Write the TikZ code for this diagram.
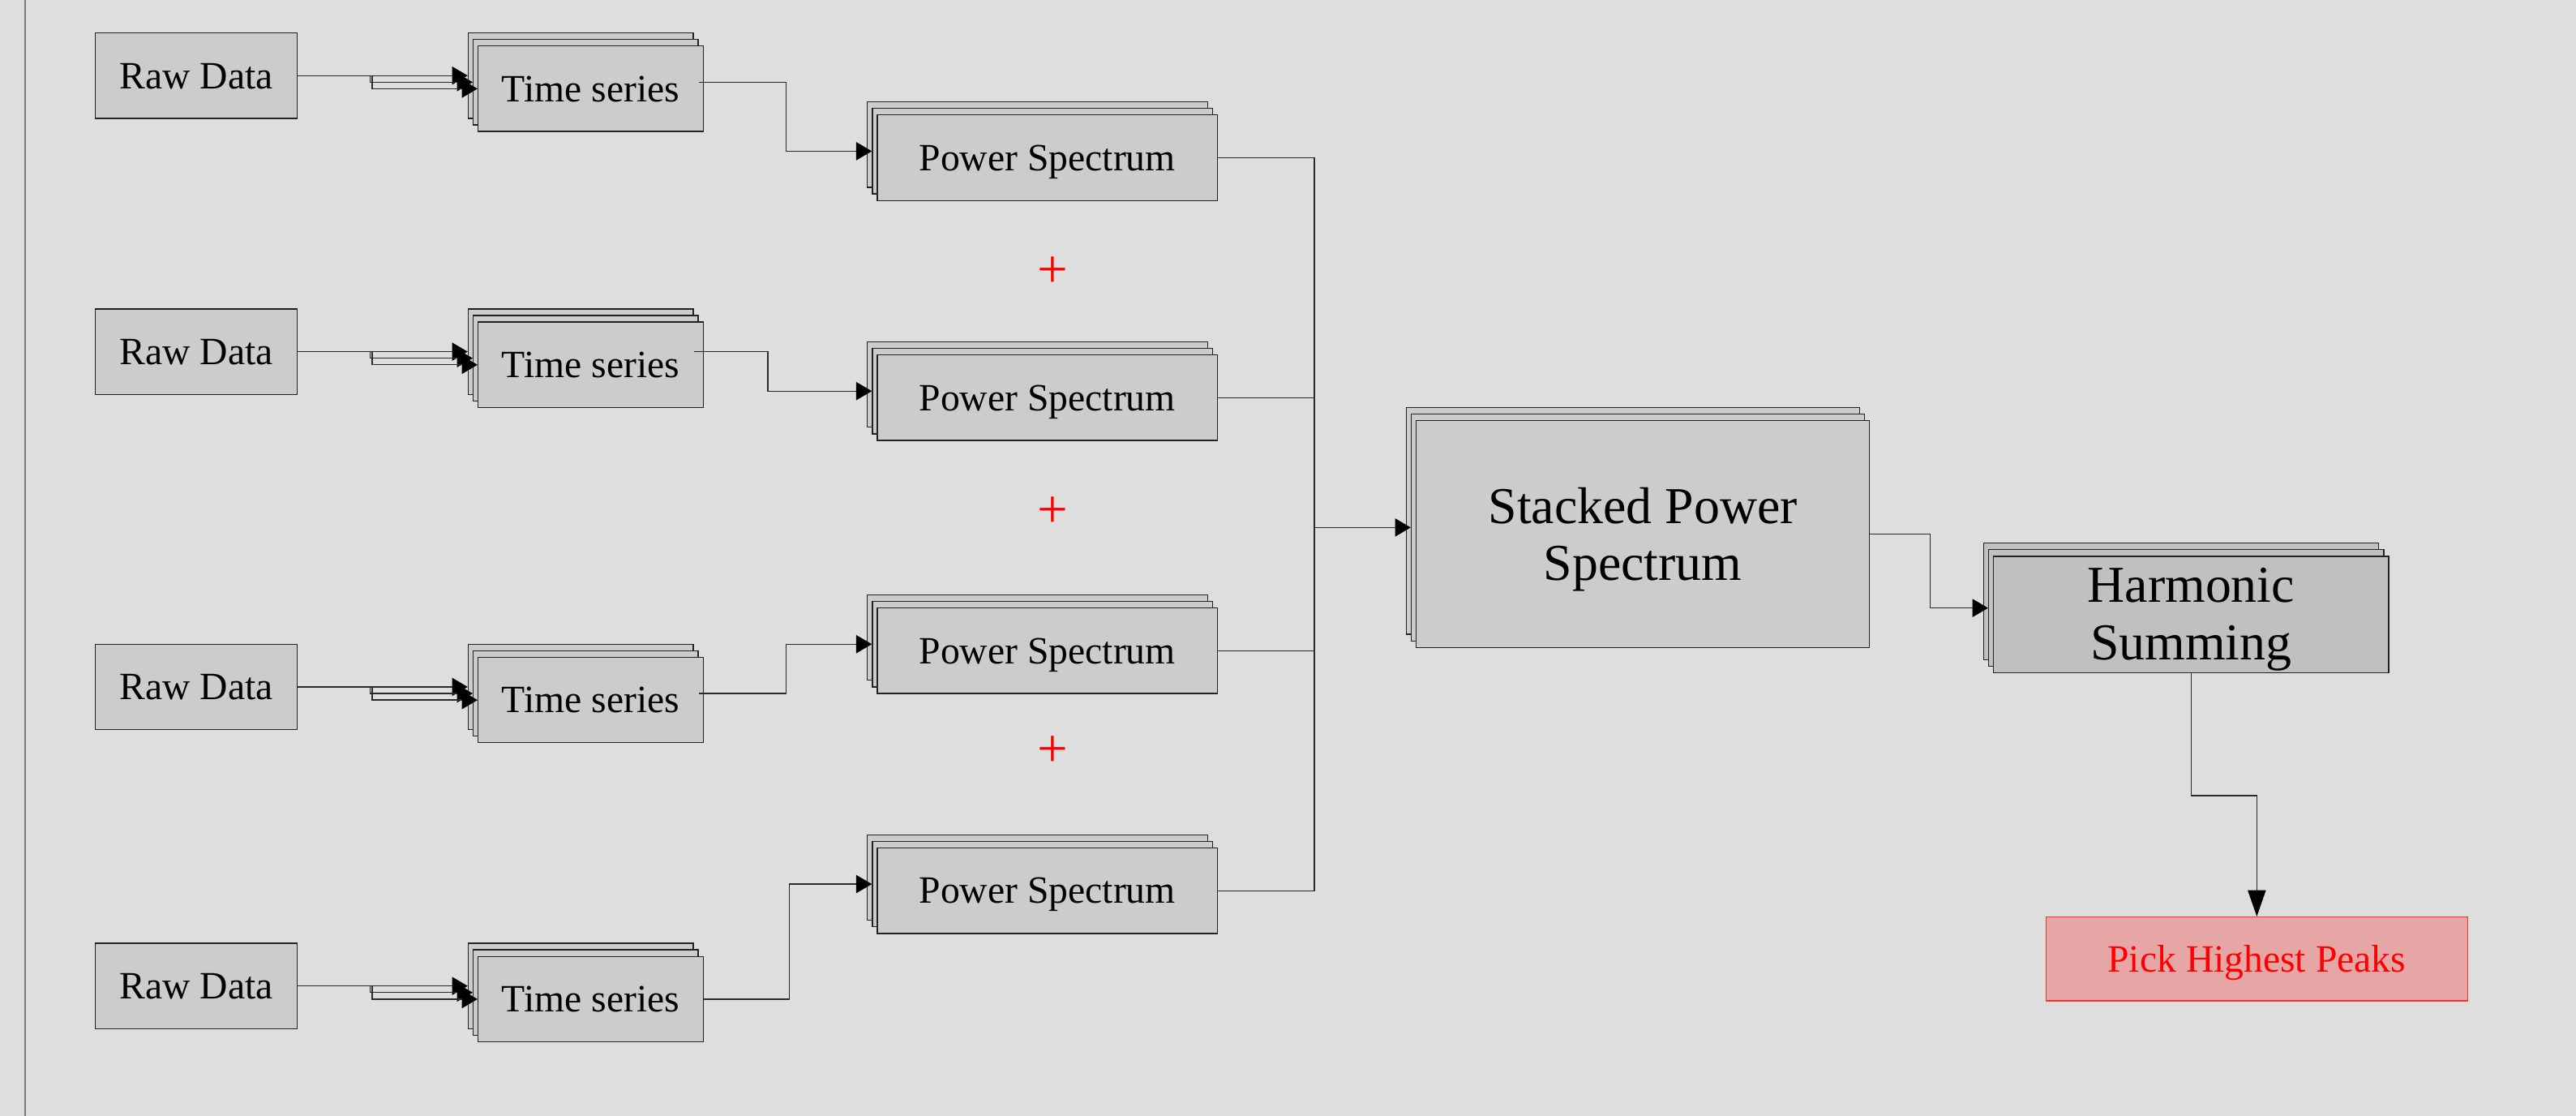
\documentclass[tikz,border=0pt]{standalone}
\usepackage{fontspec}
\setmainfont{Liberation Serif}
\usetikzlibrary{arrows.meta,calc}
\definecolor{bgc}{HTML}{DEDEDE}
\definecolor{boxc}{HTML}{CCCCCC}
\definecolor{hsc}{HTML}{C0C0C0}
\definecolor{phpfill}{HTML}{E6A6A6}
\definecolor{phpedge}{HTML}{FF3030}
\definecolor{edgec}{HTML}{222222}
\definecolor{linec}{HTML}{2A2A2A}
\definecolor{sidec}{HTML}{7A7A7A}
\tikzset{
  layer/.style={draw=edgec, line width=0.65pt, fill=boxc, inner sep=0pt},
  lbl/.style={font=\fontsize{23.5}{28}\selectfont, text height=15.6pt, text depth=0pt},
  big/.style={font=\fontsize{31.5}{35}\selectfont, inner sep=0pt},
  conn/.style={draw=linec, line width=0.65pt},
  arr/.style={conn, -{Triangle[length=9.5pt,width=11pt,fill=black,color=black]}},
  longarr/.style={conn, -{Triangle[length=16pt,width=11pt,fill=black,color=black]}},
  plus/.style={text=red, font=\fontsize{33}{36}\selectfont, inner sep=0pt},
}
\newcommand{\tribox}[7]{%
  \node[layer,#6,minimum width=#4pt,minimum height=#5pt] (#1a) at (#2,#3) {};
  \node[layer,#6,minimum width=#4pt,minimum height=#5pt] (#1b) at (#2+3,#3+4) {};
  \node[layer,#6,minimum width=#4pt,minimum height=#5pt] (#1) at (#2+6,#3+8) {#7};
}
\begin{document}
\begin{tikzpicture}[x=1pt,y=-1pt]
\fill[bgc] (0,0) rectangle (1568,679);
\useasboundingbox (0,0) rectangle (1568,679);
\draw[sidec, line width=1pt] (15.5,0) -- (15.5,679);

% Raw data boxes
\foreach \i/\yy in {1/46,2/214,3/418,4/600}{
  \node[layer,lbl,minimum width=123pt,minimum height=52pt] (rd\i) at (119.5,\yy) {Raw Data};
}
% Time series stacks
\tribox{ts1}{353.5}{46}{137}{52}{lbl}{Time series}
\tribox{ts2}{353.5}{214}{137}{52}{lbl}{Time series}
\tribox{ts3}{353.5}{418}{137}{52}{lbl}{Time series}
\tribox{ts4}{353.5}{600}{137}{52}{lbl}{Time series}
% Power spectrum stacks
\tribox{ps1}{631.5}{88}{207}{52}{lbl}{Power Spectrum}
\tribox{ps2}{631.5}{234}{207}{52}{lbl}{Power Spectrum}
\tribox{ps3}{631.5}{388}{207}{52}{lbl}{Power Spectrum}
\tribox{ps4}{631.5}{534}{207}{52}{lbl}{Power Spectrum}
% plus signs
\node[plus] (p1) at (641,165.5) {+};
\node[plus] (p2) at (641,311.5) {+};
\node[plus] (p3) at (641,457.5) {+};
% Stacked power spectrum
\tribox{sps}{994}{317}{276}{138}{}{}
\node[big,anchor=base] (spst1) at (1000,318.4) {Stacked Power};
\node[big,anchor=base] (spst2) at (1000,353.2) {Spectrum};
% Harmonic summing
\tribox{hs}{1327.7}{366}{240.5}{71}{fill=hsc}{}
\node[big,anchor=base] (hst1) at (1333.7,366.5) {Harmonic};
\node[big,anchor=base] (hst2) at (1333.7,401.7) {Summing};
% Pick highest peaks
\node[draw=phpedge, line width=0.6pt, fill=phpfill, text=red, lbl,
      minimum width=256.6pt, minimum height=51pt, inner sep=0pt] (php) at (1373.7,583.5) {Pick Highest Peaks};

% Raw data -> time series
\foreach \i in {1,2,3,4}{
  \draw[arr] (rd\i.east) -- (ts\i a.west);
  \draw[arr] (rd\i.east) -- ++(44,0) |- (ts\i b.west);
  \draw[arr] (rd\i.east) -- ++(45.2,0) |- (ts\i.west);
}
% time series -> power spectrum
\draw[arr] (ts1b.east) -- ++(53,0) |- (ps1b.west);
\draw[arr] (ts2a.east) -- ++(45,0) |- (ps2b.west);
\draw[arr] (ts3b.east) -- ++(53,0) |- (ps3b.west);
\draw[arr] (ts4.east) -- ++(52,0) |- (ps4b.west);
% power spectra -> bus
\coordinate (bus) at (800,321);
\draw[conn] (ps1.east) -| (bus);
\draw[conn] (ps4.east) -| (bus);
\draw[conn] (ps2.east) -- (ps2.east -| bus);
\draw[conn] (ps3.east) -- (ps3.east -| bus);
\draw[arr] (bus) -- (spsb.west);
% stacked -> harmonic
\draw[arr] (sps.east) -- ++(36.5,0) |- (hsb.west);
% harmonic -> pick
\draw[longarr] (hs.south) -- ++(0,74.3) -| (php.north);
\end{tikzpicture}
\end{document}
